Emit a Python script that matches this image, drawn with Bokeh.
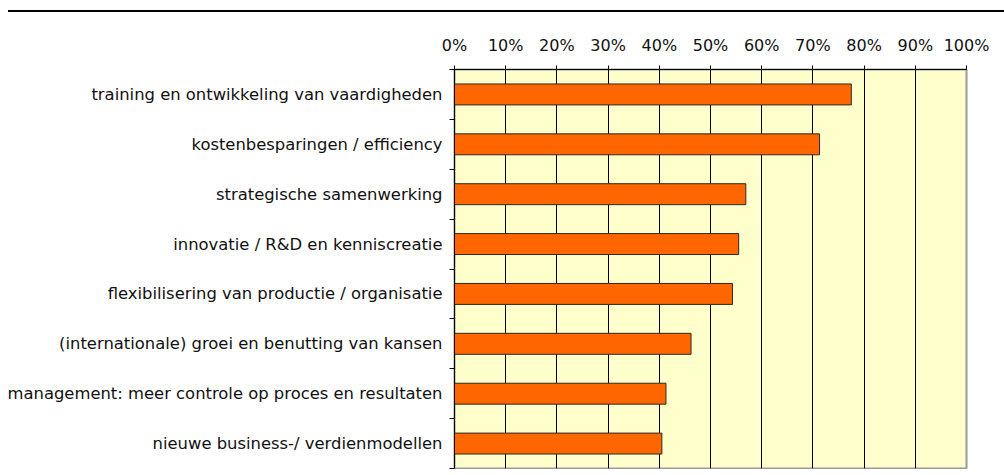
from bokeh.plotting import figure
from bokeh.models import FixedTicker, NumeralTickFormatter, Range1d, Div, ColumnDataSource
from bokeh.layouts import column
from bokeh.embed import file_html
from bokeh.resources import INLINE

categories = [
    "training en ontwikkeling van vaardigheden",
    "kostenbesparingen / efficiency",
    "strategische samenwerking",
    "innovatie / R&D en kenniscreatie",
    "flexibilisering van productie / organisatie",
    "(internationale) groei en benutting van kansen",
    "management: meer controle op proces en resultaten",
    "nieuwe business-/ verdienmodellen",
]
values = [0.775, 0.713, 0.569, 0.555, 0.543, 0.462, 0.413, 0.405]
x_ticks = [0.0, 0.1, 0.2, 0.3, 0.4, 0.5, 0.6, 0.7, 0.8, 0.9, 1.0]

FONT = "DejaVu Sans"
n = len(categories)
ypos = [n - i - 0.5 for i in range(n)]
src = ColumnDataSource(dict(y=ypos, right=values, label=categories))

p = figure(width=1004, height=452, x_range=Range1d(0, 1), y_range=Range1d(0, n),
           x_axis_location="above", output_backend="svg", toolbar_location=None,
           min_border_left=454, min_border_right=38, min_border_top=52, min_border_bottom=1)
p.hbar(y="y", left=0, right="right", height=0.42, source=src,
       fill_color="#FF6600", line_color="#2a2a2a", line_width=1)

p.background_fill_color = "#FFFFCC"
p.border_fill_color = "white"
p.outline_line_color = "#9a9a9a"
p.outline_line_width = 2

xa = p.xaxis[0]
xa.ticker = FixedTicker(ticks=x_ticks)
xa.formatter = NumeralTickFormatter(format="0%")
xa.major_tick_out = 4
xa.major_tick_in = 0
xa.minor_tick_out = 0
xa.minor_tick_in = 0
xa.major_label_standoff = 11
xa.axis_line_color = "black"
xa.major_tick_line_color = "black"
xa.major_label_text_font = FONT
xa.major_label_text_font_size = "16px"
xa.major_label_text_color = "#111111"

ya = p.yaxis[0]
ya.ticker = FixedTicker(ticks=ypos, minor_ticks=list(range(n + 1)))
ya.major_label_overrides = {y: lab for y, lab in zip(ypos, categories)}
ya.major_tick_out = 0
ya.major_tick_in = 0
ya.minor_tick_out = 5
ya.minor_tick_in = 0
ya.minor_tick_line_color = "black"
ya.axis_line_color = "black"
ya.major_label_standoff = 7
ya.major_label_text_font = FONT
ya.major_label_text_font_size = "16.4px"
ya.major_label_text_color = "#111111"

p.xgrid.grid_line_color = "black"
p.xgrid.grid_line_width = 1
p.ygrid.grid_line_color = None

top_line = Div(text='<div style="margin-left:3px;margin-top:2px;position:relative;top:-5px;'
                    'border-top:2px solid #000;width:1001px;"></div>',
               width=1004, height=7)

layout = column(top_line, p)
open("out.html", "w").write(file_html(layout, INLINE))
